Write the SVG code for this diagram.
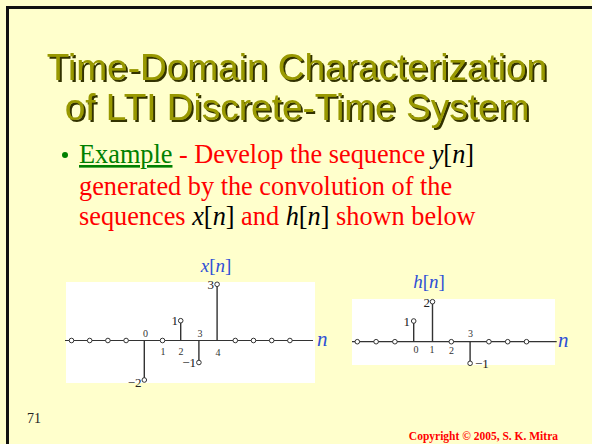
<svg xmlns="http://www.w3.org/2000/svg" width="592" height="444" viewBox="0 0 592 444">
<defs>
<filter id="sh" x="-5%" y="-20%" width="110%" height="140%">
<feOffset in="SourceAlpha" dx="2" dy="2" result="o"/>
<feFlood flood-color="#333300"/>
<feComposite in2="o" operator="in" result="s"/>
<feMerge><feMergeNode in="s"/><feMergeNode in="SourceGraphic"/></feMerge>
</filter>
</defs>
<style>
.title{font-family:"Liberation Sans",Arial,sans-serif;font-size:37px;text-anchor:middle;fill:#999900;filter:url(#sh)}
.body{font-family:"Liberation Serif","Times New Roman",serif;font-size:26.3px;fill:#ff0000}
.it{font-style:italic;fill:#000}
.ax{stroke:#333;stroke-width:1.2;fill:none}
.st{stroke:#333;stroke-width:1.4;fill:none}
.dot{fill:#fff;stroke:#333;stroke-width:1}
.tk{font-family:"Liberation Serif","Times New Roman",serif;font-size:10px;fill:#333;text-anchor:middle}
.vl{font-family:"Liberation Serif","Times New Roman",serif;font-size:13px;fill:#222}
.lbl{font-family:"Liberation Serif","Times New Roman",serif;font-size:19px;fill:#2E4FD6}
.nl{font-family:"Liberation Serif","Times New Roman",serif;font-size:21px;font-style:italic;fill:#2E4FD6}
</style>
<rect x="0" y="0" width="592" height="444" fill="#FFFFCC"/>
<path d="M7.5 444 V7.5 H592" fill="none" stroke="#111" stroke-width="3"/>
<g id="title">
<text class="title" x="297" y="80">Time-Domain Characterization</text>
<text class="title" x="297" y="120">of LTI Discrete-Time System</text>
</g>
<g id="bullet">
<circle cx="65" cy="155" r="3" fill="#008000"/>
<text class="body" x="79" y="163"><tspan fill="#008000" text-decoration="underline">Example</tspan> - Develop the sequence <tspan class="it">y</tspan><tspan fill="#000">[</tspan><tspan class="it">n</tspan><tspan fill="#000">]</tspan></text>
<text class="body" x="79" y="195">generated by the convolution of the</text>
<text class="body" x="79" y="225">sequences <tspan class="it">x</tspan><tspan fill="#000">[</tspan><tspan class="it">n</tspan><tspan fill="#000">]</tspan> and <tspan class="it">h</tspan><tspan fill="#000">[</tspan><tspan class="it">n</tspan><tspan fill="#000">]</tspan> shown below</text>
</g>
<g id="xplot">
<rect x="66" y="282" width="249" height="101" fill="#fff"/>
<text class="lbl" x="216" y="272" text-anchor="middle"><tspan font-style="italic">x</tspan>[<tspan font-style="italic">n</tspan>]</text>
<line class="ax" x1="65" y1="340.5" x2="313" y2="340.5"/>
<path class="st" d="M144.3 340.5V380M180.7 340.5V320.7M198.9 340.5V362.5M217.1 340.5V284.3"/>
<g>
<circle class="dot" cx="71.5" cy="340.5" r="2.3"/><circle class="dot" cx="89.7" cy="340.5" r="2.3"/><circle class="dot" cx="107.9" cy="340.5" r="2.3"/><circle class="dot" cx="126.1" cy="340.5" r="2.3"/>
<circle class="dot" cx="162.5" cy="340.5" r="2.3"/>
<circle class="dot" cx="235.3" cy="340.5" r="2.3"/><circle class="dot" cx="253.5" cy="340.5" r="2.3"/><circle class="dot" cx="271.7" cy="340.5" r="2.3"/><circle class="dot" cx="289.9" cy="340.5" r="2.3"/>
<circle class="dot" cx="144.3" cy="380" r="2.3"/><circle class="dot" cx="180.7" cy="320.7" r="2.3"/><circle class="dot" cx="198.9" cy="362.5" r="2.3"/><circle class="dot" cx="217.1" cy="284.3" r="2.3"/>
</g>
<text class="tk" x="145.5" y="337">0</text>
<text class="tk" x="163" y="355">1</text>
<text class="tk" x="181" y="355">2</text>
<text class="tk" x="200" y="337">3</text>
<text class="tk" x="218" y="356">4</text>
<text class="vl" x="214" y="289" text-anchor="end">3</text>
<text class="vl" x="178" y="325" text-anchor="end">1</text>
<text class="vl" x="196" y="367" text-anchor="end">−1</text>
<text class="vl" x="141.5" y="387" text-anchor="end">−2</text>
<text class="nl" x="317" y="346">n</text>
</g>
<g id="hplot">
<rect x="352" y="299" width="203" height="66" fill="#fff"/>
<text class="lbl" x="429" y="288" text-anchor="middle"><tspan font-style="italic">h</tspan>[<tspan font-style="italic">n</tspan>]</text>
<line class="ax" x1="352" y1="341.7" x2="556.7" y2="341.7"/>
<path class="st" d="M413.7 341.7V321M432.5 341.7V301.7M470.1 341.7V363.3"/>
<g>
<circle class="dot" cx="357.3" cy="341.7" r="2.3"/><circle class="dot" cx="376.1" cy="341.7" r="2.3"/><circle class="dot" cx="394.9" cy="341.7" r="2.3"/>
<circle class="dot" cx="451.3" cy="341.7" r="2.3"/>
<circle class="dot" cx="488.9" cy="341.7" r="2.3"/><circle class="dot" cx="507.7" cy="341.7" r="2.3"/><circle class="dot" cx="526.5" cy="341.7" r="2.3"/>
<circle class="dot" cx="413.7" cy="321" r="2.3"/><circle class="dot" cx="432.5" cy="301.7" r="2.3"/><circle class="dot" cx="470.1" cy="363.3" r="2.3"/>
</g>
<text class="tk" x="416" y="353">0</text>
<text class="tk" x="432" y="353">1</text>
<text class="tk" x="451.5" y="354">2</text>
<text class="tk" x="470.5" y="337">3</text>
<text class="vl" x="410" y="326" text-anchor="end">1</text>
<text class="vl" x="430" y="307" text-anchor="end">2</text>
<text class="vl" x="475" y="368">−1</text>
<text class="nl" x="558" y="347">n</text>
</g>
<g id="footer">
<text x="27" y="423" font-family="Liberation Serif,serif" font-size="14" fill="#222">71</text>
<text x="558" y="440" text-anchor="end" font-family="Liberation Serif,serif" font-size="11.5" font-weight="bold" fill="#ff0000">Copyright © 2005, S. K. Mitra</text>
</g>
</svg>
